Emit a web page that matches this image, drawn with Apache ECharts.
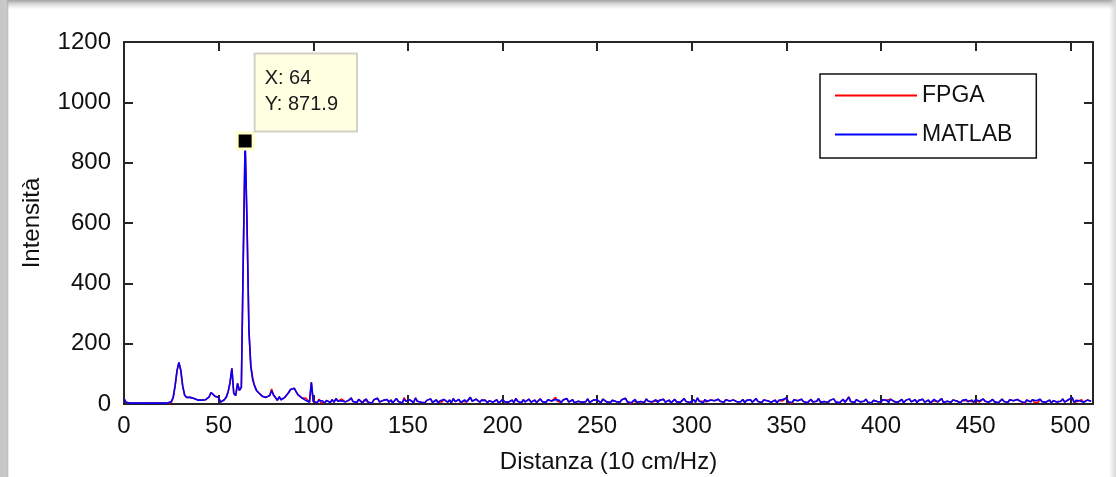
<!DOCTYPE html>
<html>
<head>
<meta charset="utf-8">
<title>Intensità</title>
<script src="https://cdn.jsdelivr.net/npm/echarts@6/dist/echarts.min.js"></script>
<style>
  html, body { margin: 0; padding: 0; background: #fff; }
  #wrap { position: relative; width: 1116px; height: 477px; overflow: hidden; }
  #chart { width: 1116px; height: 477px; }
  /* cornice grigia come nello screenshot */
  .shade { position: absolute; pointer-events: none; }
  .top { left: 0; top: 0; width: 1116px; height: 9px; background: linear-gradient(#a2a2a2, #d4d4d4 40%, rgba(255,255,255,0)); }
  .left { left: 0; top: 0; width: 9px; height: 477px; background: linear-gradient(to right, #c6c6c6, #cacaca 70%, #b4b4b4 80%, rgba(255,255,255,0)); }
  .right { right: 0; top: 0; width: 7px; height: 477px; background: linear-gradient(to left, #d8d8d8, rgba(255,255,255,0)); }
</style>
</head>
<body>
<div id="wrap">
  <div id="chart"></div>
  <div class="shade top"></div>
  <div class="shade left"></div>
  <div class="shade right"></div>
</div>
<script>
// campioni 0..511
const matlab = [
  18, 6, 3, 3, 3, 3, 3, 3, 3, 3,
  3, 3, 3, 3, 3, 3, 3, 3, 3, 3,
  3, 3, 3, 3, 4, 8, 22, 60, 110, 138,
  112, 60, 30, 22, 18, 22, 20, 18, 13, 13,
  14, 13, 12, 14, 16, 24, 38, 34, 26, 30,
  22, 6, 2, 14, 22, 40, 70, 118, 35, 28,
  68, 45, 55, 477, 871.9, 600, 245, 124, 80, 60,
  45, 38, 32, 26, 30, 22, 18, 28, 44, 30,
  22, 12, 24, 14, 10, 22, 30, 38, 48, 44,
  52, 40, 30, 25, 20, 14, 12, 16, 6, 72,
  8, 14, 4, 12, 6, 10, 3, 12, 8, 5,
  14, 6, 18, 9, 4, 11, 16, 7, 3, 13,
  20, 8, 12, 5, 15, 10, 4, 9, 17, 6,
  11, 3, 14, 8, 19, 7, 5, 12, 9, 15,
  6, 13, 4, 10, 18, 8, 12, 3, 16, 9,
  7, 14, 11, 5, 20, 9, 13, 6, 10, 4,
  12, 8, 17, 5, 9, 14, 3, 11, 7, 15,
  10, 6, 13, 4, 18, 8, 11, 15, 5, 9,
  14, 7, 12, 22, 9, 5, 16, 10, 6, 13,
  8, 12, 4, 11, 17, 6, 10, 14, 3, 9,
  15, 8, 12, 6, 10, 13, 5, 18, 9, 11,
  4, 14, 7, 12, 16, 6, 9, 13, 5, 10,
  17, 8, 11, 6, 14, 20, 10, 7, 15, 9,
  12, 5, 13, 8, 18, 6, 11, 14, 4, 10,
  9, 15, 6, 12, 8, 17, 5, 11, 13, 7,
  14, 9, 4, 16, 10, 7, 13, 5, 12, 18,
  8, 11, 6, 14, 9, 19, 7, 12, 4, 10,
  15, 6, 11, 8, 13, 5, 17, 9, 12, 7,
  10, 14, 5, 12, 8, 16, 6, 11, 13, 4,
  9, 15, 7, 12, 6, 10, 18, 8, 13, 5,
  11, 14, 6, 20, 9, 12, 4, 15, 8, 10,
  13, 7, 11, 5, 16, 9, 12, 6, 14, 8,
  10, 4, 13, 17, 7, 11, 8, 15, 5, 12,
  9, 14, 6, 10, 18, 8, 12, 5, 13, 7,
  11, 16, 6, 9, 13, 4, 12, 8, 15, 10,
  20, 7, 12, 5, 14, 9, 11, 6, 16, 8,
  13, 4, 10, 15, 7, 12, 9, 18, 6, 11,
  8, 14, 5, 12, 10, 17, 7, 13, 4, 9,
  15, 6, 11, 22, 8, 12, 5, 14, 10, 7,
  13, 9, 16, 6, 11, 4, 12, 15, 8, 10,
  7, 14, 9, 12, 5, 16, 10, 8, 13, 6,
  11, 15, 4, 12, 9, 17, 7, 10, 14, 5,
  12, 8, 16, 6, 11, 13, 4, 10, 15, 9,
  7, 12, 18, 5, 11, 9, 14, 6, 13, 8,
  10, 16, 4, 12, 9, 15, 7, 11, 13, 6,
  14, 8, 10, 5, 17, 9, 12, 6, 11, 15,
  7, 13, 4, 10, 16, 8, 12, 5, 14, 9,
  11, 6, 15, 20, 8, 12, 4, 13, 10, 7,
  14, 9, 11, 5, 16, 8, 12, 6, 10, 13,
  4, 11, 15, 7, 12, 9, 17, 6, 10, 14,
  8, 21, 5, 12, 9, 11, 14, 6, 10, 13,
  7, 9
];

const fpga = [
  18, 6, 3, 3, 3, 3, 3, 3, 3, 3,
  3, 3, 3, 3, 3, 3, 3, 3, 3, 3,
  3, 3, 3, 3, 1, 5, 22, 60, 110, 138,
  112, 60, 30, 22, 18, 22, 20, 18, 13, 13,
  14, 13, 12, 14, 16, 24, 38, 34, 26, 30,
  22, 6, 2, 14, 22, 40, 70, 118, 35, 28,
  68, 45, 55, 477, 871.9, 600, 245, 128, 86, 60,
  45, 38, 32, 26, 30, 22, 18, 28, 50, 30,
  36, 12, 24, 14, 10, 22, 26, 38, 48, 44,
  52, 40, 30, 25, 20, 14, 20, 16, 6, 72,
  8, 14, 4, 16, 6, 10, 3, 12, 8, 5,
  14, 6, 18, 9, 4, 16, 16, 7, 3, 13,
  20, 8, 12, 5, 15, 10, 4, 14, 17, 6,
  11, 3, 14, 8, 19, 7, 10, 12, 9, 15,
  6, 13, 4, 10, 18, 8, 12, 3, 21, 9,
  7, 14, 11, 5, 20, 9, 13, 6, 10, 4,
  12, 8, 17, 5, 9, 14, 7, 11, 7, 15,
  10, 6, 13, 4, 18, 8, 11, 15, 2, 9,
  14, 7, 12, 22, 9, 5, 16, 10, 6, 13,
  8, 12, 4, 11, 17, 6, 10, 14, 3, 9,
  15, 8, 12, 6, 10, 13, 5, 18, 9, 11,
  4, 14, 7, 12, 16, 6, 9, 13, 5, 10,
  17, 8, 11, 6, 14, 20, 10, 7, 22, 9,
  12, 5, 13, 8, 18, 6, 11, 14, 4, 10,
  9, 15, 6, 5, 8, 17, 5, 11, 13, 7,
  14, 9, 4, 16, 10, 7, 13, 5, 12, 18,
  8, 11, 6, 14, 9, 19, 7, 12, 2, 10,
  15, 6, 11, 8, 13, 5, 17, 9, 12, 7,
  10, 10, 5, 12, 8, 16, 6, 11, 13, 4,
  9, 15, 7, 12, 6, 10, 18, 8, 13, 5,
  11, 14, 6, 20, 9, 12, 9, 15, 8, 10,
  13, 7, 11, 5, 16, 9, 12, 6, 14, 8,
  10, 4, 13, 12, 7, 11, 8, 15, 5, 12,
  9, 14, 6, 10, 18, 8, 12, 5, 13, 7,
  11, 16, 6, 9, 13, 4, 12, 8, 10, 10,
  20, 7, 12, 2, 14, 9, 11, 6, 16, 8,
  13, 4, 4, 15, 7, 8, 9, 18, 6, 11,
  8, 9, 5, 12, 10, 17, 7, 13, 4, 9,
  15, 6, 11, 24, 8, 12, 5, 14, 10, 7,
  13, 9, 16, 6, 11, 4, 12, 15, 8, 10,
  7, 14, 9, 12, 9, 16, 10, 8, 13, 6,
  11, 15, 4, 12, 9, 17, 7, 10, 14, 5,
  12, 8, 16, 6, 11, 13, 4, 10, 11, 9,
  7, 12, 18, 5, 11, 9, 14, 6, 13, 8,
  10, 16, 4, 12, 9, 11, 7, 11, 13, 6,
  14, 8, 6, 5, 17, 9, 12, 6, 11, 15,
  7, 13, 4, 10, 16, 8, 12, 5, 14, 9,
  11, 6, 15, 17, 8, 12, 1, 13, 10, 7,
  14, 6, 11, 5, 16, 8, 12, 6, 10, 13,
  4, 11, 15, 7, 12, 9, 17, 6, 10, 14,
  8, 21, 5, 8, 9, 11, 14, 6, 10, 13,
  7, 9
];

const xTicks = [0, 512, 50];       // min, max, passo
const yTicks = [0, 1200, 200];
const seriesNames = ['FPGA', 'MATLAB'];

// punto evidenziato dal data cursor
const peakX = 64;
const peakY = matlab[peakX];

const font = '"Liberation Sans", Arial, sans-serif';
const axisColor = '#262626';

function pairs(arr) {
  return arr.map((v, i) => [i, v]);
}

const myChart = echarts.init(document.getElementById('chart'));

const axisBase = {
  type: 'value',
  axisLine: { show: true, onZero: false, lineStyle: { color: axisColor, width: 2 } },
  axisTick: { show: true, inside: true, length: 9, lineStyle: { color: axisColor, width: 2 } },
  splitLine: { show: false }
};

myChart.setOption({
  animation: false,
  backgroundColor: '#fff',
  textStyle: { fontFamily: font },
  grid: { left: 124, right: 23, top: 42, bottom: 73, containLabel: false, outerBoundsMode: 'none' },
  legend: {
    data: seriesNames,
    orient: 'vertical',
    left: 820,
    top: 74,
    padding: [10, 24, 12, 15],
    itemGap: 16,
    itemWidth: 82,
    itemHeight: 2,
    icon: 'rect',
    borderColor: '#111',
    borderWidth: 1.5,
    backgroundColor: '#fff',
    textStyle: { fontFamily: font, fontSize: 23, color: '#111' }
  },
  xAxis: [
    Object.assign({}, axisBase, {
      position: 'bottom',
      min: xTicks[0], max: xTicks[1], interval: xTicks[2],
      name: 'Distanza (10 cm/Hz)',
      nameLocation: 'middle',
      nameGap: 46,
      nameTextStyle: { fontFamily: font, fontSize: 24, color: '#111' },
      axisLabel: { showMaxLabel: false, margin: 10, fontFamily: font, fontSize: 24, color: '#111' }
    }),
    Object.assign({}, axisBase, {
      position: 'top',
      min: xTicks[0], max: xTicks[1], interval: xTicks[2],
      axisLabel: { show: false }
    })
  ],
  yAxis: [
    Object.assign({}, axisBase, {
      position: 'left',
      min: yTicks[0], max: yTicks[1], interval: yTicks[2],
      name: 'Intensità',
      nameLocation: 'middle',
      nameGap: 80,
      nameTextStyle: { fontFamily: font, fontSize: 24, color: '#111' },
      axisLabel: { margin: 13, fontFamily: font, fontSize: 24, color: '#111', formatter: v => String(v) }
    }),
    Object.assign({}, axisBase, {
      position: 'right',
      min: yTicks[0], max: yTicks[1], interval: yTicks[2],
      axisLabel: { show: false }
    })
  ],
  series: [
    {
      name: seriesNames[0],
      type: 'line',
      data: pairs(fpga),
      showSymbol: false,
      symbol: 'none',
      color: '#ff0000',
      lineStyle: { color: '#ff0000', width: 1.6 }
    },
    {
      name: seriesNames[1],
      type: 'line',
      data: pairs(matlab),
      showSymbol: false,
      symbol: 'none',
      color: '#0000ff',
      lineStyle: { color: '#0000ff', width: 1.6 },
      markPoint: {
        symbol: 'rect',
        symbolSize: 16,
        silent: true,
        itemStyle: { color: '#000', borderColor: '#ffffc8', borderWidth: 3 },
        label: {
          show: true,
          position: [20, -77],
          align: 'left',
          verticalAlign: 'top',
          formatter: 'X: ' + peakX + '\nY: ' + peakY,
          fontFamily: font,
          fontSize: 20,
          lineHeight: 26,
          color: '#1a1a1a',
          backgroundColor: '#ffffe1',
          borderColor: '#d2d2c4',
          borderWidth: 2,
          padding: [11, 18, 13, 9]
        },
        data: [{ coord: [peakX, peakY] }]
      }
    }
  ]
});

window.onresize = myChart.resize;
</script>
</body>
</html>
